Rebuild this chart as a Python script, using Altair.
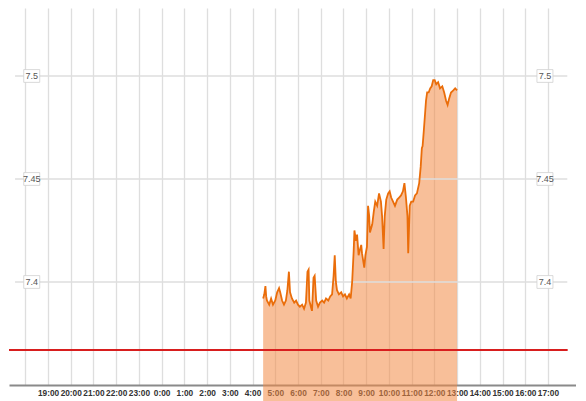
import altair as alt
import pandas as pd

# ---- data ----
times = [
    "04:28", "04:31", "04:34", "04:36", "04:38", "04:44", "04:49", "04:54", "05:00", "05:05",
    "05:10", "05:13", "05:18", "05:23", "05:28", "05:32", "05:36", "05:39", "05:44", "05:50",
    "05:55", "06:00", "06:05", "06:11", "06:16", "06:21", "06:25", "06:28", "06:30", "06:34",
    "06:37", "06:41", "06:44", "06:48", "06:53", "06:58", "07:04", "07:09", "07:14", "07:20",
    "07:25", "07:30", "07:34", "07:37", "07:40", "07:43", "07:48", "07:54", "07:59", "08:04",
    "08:09", "08:15", "08:19", "08:23", "08:27", "08:29", "08:33", "08:36", "08:40", "08:44",
    "08:47", "08:49", "08:55", "08:58", "09:02", "09:05", "09:08", "09:10", "09:16", "09:20",
    "09:24", "09:29", "09:34", "09:39", "09:42", "09:46", "09:49", "09:53", "09:58", "10:02",
    "10:06", "10:11", "10:16", "10:22", "10:27", "10:32", "10:37", "10:41", "10:45", "10:49",
    "10:51", "10:55", "10:59", "11:04", "11:09", "11:14", "11:20", "11:24", "11:27", "11:29",
    "11:32", "11:36", "11:38", "11:41", "11:45", "11:49", "11:53", "11:57", "12:01", "12:05",
    "12:10", "12:15", "12:21", "12:26", "12:31", "12:35", "12:39", "12:44", "12:50", "12:55",
    "13:00",
]
values = [
    7.392, 7.394, 7.398, 7.393, 7.391, 7.389, 7.392, 7.389, 7.391, 7.395,
    7.397, 7.395, 7.391, 7.389, 7.391, 7.396, 7.405, 7.395, 7.392, 7.390,
    7.391, 7.389, 7.388, 7.389, 7.387, 7.390, 7.405, 7.406, 7.391, 7.388,
    7.386, 7.402, 7.403, 7.391, 7.388, 7.390, 7.391, 7.390, 7.392, 7.391,
    7.393, 7.394, 7.403, 7.413, 7.400, 7.396, 7.394, 7.395, 7.393, 7.394,
    7.392, 7.394, 7.392, 7.400, 7.415, 7.425, 7.420, 7.423, 7.413, 7.416,
    7.418, 7.414, 7.407, 7.413, 7.417, 7.437, 7.432, 7.424, 7.428, 7.434,
    7.439, 7.437, 7.443, 7.439, 7.432, 7.416, 7.432, 7.440, 7.443, 7.444,
    7.441, 7.439, 7.437, 7.440, 7.441, 7.442, 7.444, 7.448, 7.441, 7.432,
    7.414, 7.437, 7.439, 7.439, 7.442, 7.443, 7.448, 7.456, 7.465, 7.466,
    7.473, 7.483, 7.488, 7.492, 7.492, 7.494, 7.495, 7.498, 7.498, 7.496,
    7.497, 7.494, 7.495, 7.492, 7.488, 7.486, 7.489, 7.492, 7.493, 7.494,
    7.493,
]
ref_value = 7.367
grid_values = [7.4, 7.45, 7.5]
grid_labels = ["7.4", "7.45", "7.5"]

DAY1 = "2024-01-01"
DAY2 = "2024-01-02"

df = pd.DataFrame({"t": [f"{DAY2}T{s}:00" for s in times], "v": values})

x_domain = [alt.DateTime(year=2024, month=1, date=1, hours=17, minutes=17),
            alt.DateTime(year=2024, month=1, date=2, hours=18, minutes=14)]
y_domain = [7.35, 7.533]

tick_vals = ([alt.DateTime(year=2024, month=1, date=1, hours=h) for h in range(18, 24)] +
             [alt.DateTime(year=2024, month=1, date=2, hours=h) for h in range(0, 18)])

xscale = alt.Scale(domain=x_domain, nice=False)
yscale = alt.Scale(domain=y_domain, nice=False, zero=False)

xaxis = alt.Axis(
    values=tick_vals, format="%-H:%M",
    labelExpr="hours(datum.value) == 18 ? '' : datum.label",
    grid=True, gridColor="#dedede", gridWidth=1.3,
    ticks=False, domainColor="#8a8a8a", domainWidth=2,
    labelFont="Liberation Sans", labelFontSize=8.3, labelFontWeight="bold",
    labelColor="#333333", labelPadding=3, labelOverlap=False, labelFlush=False,
    title=None,
)

area = alt.Chart(df).mark_area(color="#f28a45", opacity=0.55, line=False).encode(
    x=alt.X("t:T", scale=xscale, axis=xaxis),
    y=alt.Y("v:Q", scale=yscale, axis=None),
)
line = alt.Chart(df).mark_line(color="#ea6d0a", strokeWidth=1.8).encode(
    x=alt.X("t:T", scale=xscale, axis=xaxis),
    y=alt.Y("v:Q", scale=yscale, axis=None),
)

# horizontal gridlines
hg = pd.DataFrame({
    "y": grid_values,
    "x1": [f"{DAY1}T17:33:00"] * 3,
    "x2": [f"{DAY2}T17:51:00"] * 3,
})
hgrid = alt.Chart(hg).mark_rule(color="#dedede", strokeWidth=1.3).encode(
    x=alt.X("x1:T", scale=xscale, axis=xaxis), x2="x2:T",
    y=alt.Y("y:Q", scale=yscale, axis=None),
)

# red reference line
rl = pd.DataFrame({"y": [ref_value], "x1": [f"{DAY1}T17:17:00"], "x2": [f"{DAY2}T17:52:00"]})
red = alt.Chart(rl).mark_rule(color="#d81e1e", strokeWidth=2).encode(
    x=alt.X("x1:T", scale=xscale, axis=xaxis), x2="x2:T",
    y=alt.Y("y:Q", scale=yscale, axis=None),
)

# value labels with boxes on both sides
lab = pd.DataFrame({
    "y": grid_values * 2,
    "txt": grid_labels * 2,
    "x": [f"{DAY1}T18:17:00"] * 3 + [f"{DAY2}T16:52:00"] * 3,
})
boxes = alt.Chart(lab).mark_point(
    shape="M-1,-0.8H1V0.8H-1Z", size=256, filled=True, fill="white",
    stroke="#d0d0d0", strokeWidth=0.8, opacity=1,
).encode(
    x=alt.X("x:T", scale=xscale, axis=xaxis), y=alt.Y("y:Q", scale=yscale, axis=None),
)
texts = alt.Chart(lab).mark_text(
    font="Liberation Sans", fontSize=9, color="#555555", align="center", baseline="middle",
).encode(
    x=alt.X("x:T", scale=xscale, axis=xaxis), y=alt.Y("y:Q", scale=yscale, axis=None),
    text="txt:N",
)

chart = alt.layer(area, hgrid, line, red, boxes, texts).properties(
    width=567, height=377, padding=0,
).configure_view(stroke=None)

chart.save("out.html", embed_options={"renderer": "svg", "actions": False})
